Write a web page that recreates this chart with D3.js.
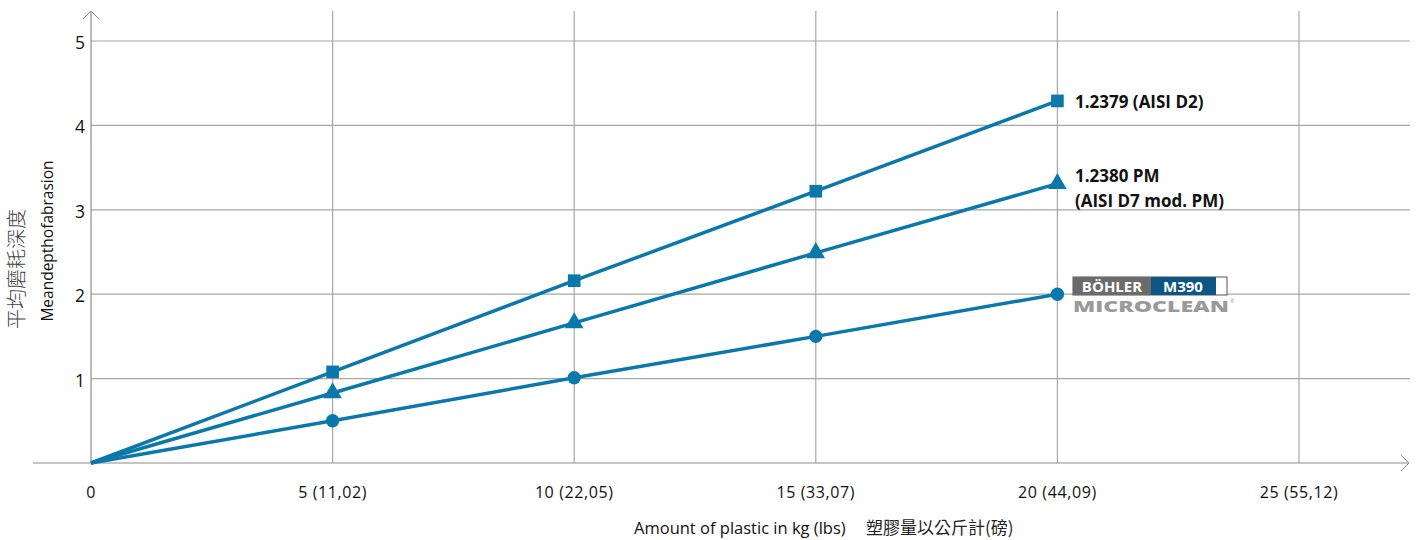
<!DOCTYPE html>
<html>
<head>
<meta charset="utf-8">
<script src="https://cdn.jsdelivr.net/npm/d3@7"></script>
<style>
  html, body { margin: 0; padding: 0; background: #fff; }
  svg { display: block; font-family: "Open Sans", "Noto Sans CJK TC", sans-serif; }
</style>
</head>
<body>
<svg id="chart" width="1419" height="540"></svg>
<script>
// Amount of plastic (kg) and matching lbs labels
const kgValues = [0, 5, 10, 15, 20];
const xTickValues = [0, 5, 10, 15, 20, 25];
const xTickLabels = ["0", "5 (11,02)", "10 (22,05)", "15 (33,07)", "20 (44,09)", "25 (55,12)"];
const yTickValues = [1, 2, 3, 4, 5];

// Mean depth of abrasion per steel grade
const d2Values = [0, 1.08, 2.16, 3.22, 4.29];
const d7Values = [0, 0.83, 1.66, 2.49, 3.31];
const m390Values = [0, 0.50, 1.01, 1.50, 2.00];

const lineColor = "#0a78aa";
const gridColor = "#a6a6a6";

const svg = d3.select("#chart");
const x = d3.scaleLinear().domain([0, 25]).range([91, 1299]);
const y = d3.scaleLinear().domain([0, 5]).range([463, 41]);

// Grid
const grid = svg.append("g");
grid.selectAll("line.h").data(yTickValues).join("line")
  .attr("x1", x(0)).attr("x2", 1410)
  .attr("y1", d => y(d)).attr("y2", d => y(d))
  .attr("stroke", gridColor).attr("stroke-width", 1.2);
grid.selectAll("line.v").data(xTickValues.filter(d => d > 0)).join("line")
  .attr("x1", d => x(d)).attr("x2", d => x(d))
  .attr("y1", 11).attr("y2", y(0))
  .attr("stroke", gridColor).attr("stroke-width", 1.2);

// Axes with arrow heads
const axisColor = "#8c8c8c";
svg.append("line").attr("x1", 33).attr("x2", 1409).attr("y1", y(0)).attr("y2", y(0))
  .attr("stroke", axisColor).attr("stroke-width", 1.2);
svg.append("path").attr("d", `M1401,${y(0) - 8} L1409,${y(0)} L1401,${y(0) + 8}`)
  .attr("fill", "none").attr("stroke", axisColor).attr("stroke-width", 1);
svg.append("line").attr("x1", x(0)).attr("x2", x(0)).attr("y1", 11).attr("y2", y(0))
  .attr("stroke", axisColor).attr("stroke-width", 1.2);
svg.append("path").attr("d", `M${x(0) - 8},19 L${x(0)},11 L${x(0) + 8},19`)
  .attr("fill", "none").attr("stroke", axisColor).attr("stroke-width", 1);

// Tick labels
svg.append("g").selectAll("text").data(xTickValues).join("text")
  .attr("x", d => x(d)).attr("y", 498)
  .attr("text-anchor", "middle").attr("font-size", 16).attr("letter-spacing", 0.6).attr("fill", "#111")
  .text((d, i) => xTickLabels[i]);
svg.append("g").selectAll("text").data(yTickValues).join("text")
  .attr("x", 85).attr("y", d => y(d) + 8)
  .attr("text-anchor", "end").attr("font-size", 17.5).attr("fill", "#111")
  .text(d => d);

// Axis titles
svg.append("text").attr("x", 634).attr("y", 534).attr("font-size", 16.5).attr("fill", "#111")
  .text("Amount of plastic in kg (lbs)");
svg.append("text").attr("x", 866).attr("y", 534).attr("font-size", 17).attr("fill", "#222")
  .attr("font-family", "'Noto Sans CJK TC', sans-serif")
  .text("塑膠量以公斤計(磅)");
svg.append("text").attr("transform", "translate(53,241) rotate(-90)")
  .attr("text-anchor", "middle").attr("font-size", 15.5).attr("fill", "#111")
  .text("Meandepthofabrasion");
svg.append("text").attr("transform", "translate(24,269) rotate(-90)")
  .attr("text-anchor", "middle").attr("font-size", 20).attr("fill", "#444")
  .attr("font-family", "'Noto Sans CJK TC', sans-serif").attr("font-weight", 300)
  .text("平均磨耗深度");

// Series
const line = d3.line().x((d, i) => x(kgValues[i])).y(d => y(d));
const series = [
  { values: d2Values, symbol: d3.symbolSquare, size: 160 },
  { values: d7Values, symbol: d3.symbolTriangle, size: 150 },
  { values: m390Values, symbol: d3.symbolCircle, size: 140 }
];
series.forEach(s => {
  svg.append("path").datum(s.values).attr("d", line)
    .attr("fill", "none").attr("stroke", lineColor).attr("stroke-width", 3.5)
    .attr("stroke-linejoin", "round");
  svg.append("g").selectAll("path").data(s.values.slice(1)).join("path")
    .attr("transform", (d, i) => `translate(${x(kgValues[i + 1])},${y(d)})`)
    .attr("d", d3.symbol().type(s.symbol).size(s.size))
    .attr("fill", lineColor);
});

// Series labels
const lab = svg.append("g").attr("font-weight", "bold").attr("font-size", 17).attr("fill", "#111");
lab.append("text").attr("x", 1075).attr("y", y(d2Values[4]) + 7).text("1.2379 (AISI D2)");
lab.append("text").attr("x", 1075).attr("y", 182).text("1.2380 PM");
lab.append("text").attr("x", 1075).attr("y", 207).text("(AISI D7 mod. PM)");

// BÖHLER M390 MICROCLEAN badge
const badge = svg.append("g");
badge.append("rect").attr("x", 1073).attr("y", 277).attr("width", 154).attr("height", 18)
  .attr("fill", "#fff").attr("stroke", "#555").attr("stroke-width", 1);
badge.append("rect").attr("x", 1073).attr("y", 277).attr("width", 78).attr("height", 18).attr("fill", "#6b6b6b");
badge.append("rect").attr("x", 1151).attr("y", 277).attr("width", 65).attr("height", 18).attr("fill", "#0c5686");
badge.append("text").attr("x", 1112).attr("y", 292).attr("text-anchor", "middle")
  .attr("font-size", 15).attr("font-weight", "bold").attr("fill", "#fff").text("BÖHLER");
badge.append("text").attr("x", 1183).attr("y", 292).attr("text-anchor", "middle")
  .attr("font-size", 15).attr("font-weight", "bold").attr("fill", "#fff").text("M390");
badge.append("text").attr("x", 1073).attr("y", 312).attr("font-size", 15).attr("font-weight", "800")
  .attr("fill", "#9a9a9a")
  .attr("textLength", 156).attr("lengthAdjust", "spacingAndGlyphs")
  .text("MICROCLEAN");
badge.append("text").attr("x", 1230).attr("y", 303).attr("font-size", 5).attr("fill", "#9a9a9a").text("®");
</script>
</body>
</html>
